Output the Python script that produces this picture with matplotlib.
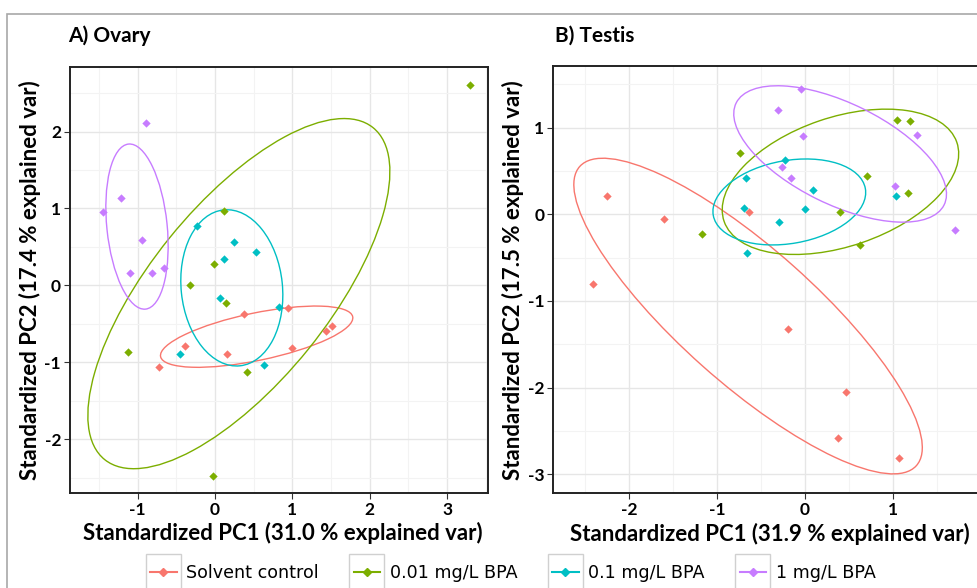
import numpy as np
import matplotlib
matplotlib.use("Agg")
import matplotlib.pyplot as plt
from matplotlib.patches import Ellipse, Rectangle
from matplotlib.lines import Line2D
from matplotlib.ticker import MultipleLocator

plt.rcParams["axes.unicode_minus"] = False

groups = ["Solvent control", "0.01 mg/L BPA", "0.1 mg/L BPA", "1 mg/L BPA"]
colors = ["#F8766D", "#7CAE00", "#00BFC4", "#C77CFF"]

# A) Ovary - PC scores per group
ovary_x = {
    "Solvent control": [0.38, 0.94, 1.51, 1.43, -0.39, 1.00, 0.16, -0.73],
    "0.01 mg/L BPA": [3.30, 0.11, -0.01, -0.33, 0.14, -1.13, 0.41, -0.03],
    "0.1 mg/L BPA": [-0.23, 0.25, 0.53, 0.12, 0.06, 0.83, -0.46, 0.63],
    "1 mg/L BPA": [-0.89, -1.22, -1.45, -0.94, -1.10, -0.81, -0.66],
}
ovary_y = {
    "Solvent control": [-0.37, -0.30, -0.53, -0.59, -0.79, -0.81, -0.89, -1.06],
    "0.01 mg/L BPA": [2.60, 0.97, 0.28, 0.00, -0.23, -0.87, -1.13, -2.48],
    "0.1 mg/L BPA": [0.77, 0.57, 0.43, 0.34, -0.17, -0.28, -0.89, -1.03],
    "1 mg/L BPA": [2.11, 1.14, 0.96, 0.59, 0.16, 0.16, 0.23],
}

# B) Testis
testis_x = {
    "Solvent control": [-2.25, -1.60, -2.41, -0.64, -0.19, 0.47, 0.38, 1.07],
    "0.01 mg/L BPA": [-0.74, -1.17, 0.70, 0.40, 0.63, 1.05, 1.19, 1.17],
    "0.1 mg/L BPA": [-0.23, -0.67, -0.69, -0.29, 0.00, 0.09, 1.03, -0.66],
    "1 mg/L BPA": [-0.05, -0.31, -0.02, -0.26, -0.16, 1.27, 1.02, 1.71],
}
testis_y = {
    "Solvent control": [0.21, -0.05, -0.81, 0.02, -1.33, -2.05, -2.58, -2.81],
    "0.01 mg/L BPA": [0.71, -0.23, 0.44, 0.02, -0.36, 1.09, 1.07, 0.25],
    "0.1 mg/L BPA": [0.63, 0.42, 0.07, -0.09, 0.06, 0.28, 0.21, -0.45],
    "1 mg/L BPA": [1.44, 1.20, 0.90, 0.55, 0.42, 0.91, 0.32, -0.18],
}

bold_font = ["Lato", "DejaVu Sans"]
ed = np.sqrt(-2 * np.log(1 - 0.68))  # sqrt(qchisq(0.68, 2))


def add_ellipse(ax, x, y, color):
    x = np.array(x)
    y = np.array(y)
    cov = np.cov(x, y)
    vals, vecs = np.linalg.eigh(cov)
    order = vals.argsort()[::-1]
    vals, vecs = vals[order], vecs[:, order]
    angle = np.degrees(np.arctan2(vecs[1, 0], vecs[0, 0]))
    e = Ellipse((x.mean(), y.mean()), 2 * ed * np.sqrt(vals[0]), 2 * ed * np.sqrt(vals[1]),
                angle=angle, fill=False, edgecolor=color, lw=1.0, zorder=2)
    ax.add_patch(e)


def draw_panel(ax, xs, ys, xlab, ylab, xlim, ylim, ylab_x):
    for g, c in zip(groups, colors):
        ax.scatter(xs[g], ys[g], marker="D", s=18, color=c, zorder=3, linewidths=0)
        add_ellipse(ax, xs[g], ys[g], c)
    ax.set_xlim(xlim)
    ax.set_ylim(ylim)
    ax.xaxis.set_major_locator(MultipleLocator(1))
    ax.yaxis.set_major_locator(MultipleLocator(1))
    ax.xaxis.set_minor_locator(MultipleLocator(0.5))
    ax.yaxis.set_minor_locator(MultipleLocator(0.5))
    ax.grid(which="major", color="#e6e6e6", lw=1.0)
    ax.grid(which="minor", color="#f3f3f3", lw=0.8)
    ax.set_axisbelow(True)
    ax.tick_params(which="minor", length=0)
    ax.tick_params(which="major", length=4, color="#333333", labelsize=12.5, pad=2.5)
    for lab in ax.get_xticklabels() + ax.get_yticklabels():
        lab.set_family(bold_font)
        lab.set_fontweight("bold")
    for s in ax.spines.values():
        s.set_linewidth(1.4)
        s.set_color("#222222")
    ax.set_xlabel(xlab, family=bold_font, fontweight="bold", fontsize=16, va="center")
    ax.set_ylabel(ylab, family=bold_font, fontweight="bold", fontsize=16, va="center")
    ax.xaxis.set_label_coords(0.51, -0.094)
    ax.yaxis.set_label_coords(ylab_x, 0.5)


fig = plt.figure(figsize=(9.77, 5.88), dpi=100)

ax1 = fig.add_axes([0.0717, 0.1616, 0.4278, 0.7245])
ax2 = fig.add_axes([0.5663, 0.161, 0.435, 0.7268])

draw_panel(ax1, ovary_x, ovary_y,
           "Standardized PC1 (31.0 % explained var)",
           "Standardized PC2 (17.4 % explained var)",
           (-1.876, 3.53), (-2.70, 2.84), -0.096)
draw_panel(ax2, testis_x, testis_y,
           "Standardized PC1 (31.9 % explained var)",
           "Standardized PC2 (17.5 % explained var)",
           (-2.86, 1.97), (-3.22, 1.71), -0.095)

fig.text(0.070, 0.94, "A) Ovary", family=bold_font, fontweight="bold", fontsize=15, va="center")
fig.text(0.568, 0.94, "B) Testis", family=bold_font, fontweight="bold", fontsize=15, va="center")

# outer frame
fig.add_artist(Rectangle((0.007, -0.1), 1.2, 1.076, transform=fig.transFigure,
                         fill=False, edgecolor="#a8a8a8", lw=1.2))

handles = [Line2D([], [], color=c, marker="D", markersize=4, lw=1.5) for c in colors]
leg = fig.legend(handles, groups, loc="center", bbox_to_anchor=(0.525, 0.026), ncol=4,
                 frameon=False, fontsize=12.6, handlelength=1.5, columnspacing=2.0,
                 handletextpad=0.55)

fig.canvas.draw()
renderer = fig.canvas.get_renderer()
for h in leg.legend_handles:
    bb = h.get_window_extent(renderer)
    cx = (bb.x0 + bb.x1) / 2
    cy = (bb.y0 + bb.y1) / 2
    size = 35
    fig.add_artist(Rectangle((cx - size / 2, cy - size / 2), size, size,
                             transform=None, fill=False, edgecolor="#d0d0d0", lw=1.0))

fig.savefig("out.png", dpi=100)
